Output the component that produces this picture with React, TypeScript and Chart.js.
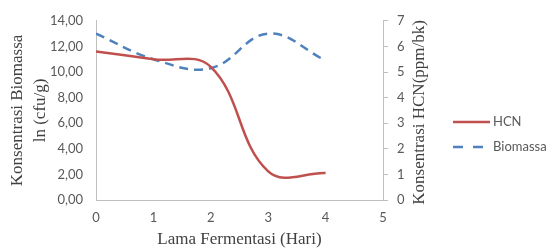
import React, { useEffect, useRef } from "react";
import { Chart, registerables } from "chart.js";

Chart.register(...registerables);

const days = [0, 1, 2, 3, 4];
const hcn = [5.8, 5.5, 5.2, 1.12, 1.05];
const biomassa = [13.0, 11.0, 10.3, 13.0, 10.9];
const seriesNames = ["HCN", "Biomassa"];
const leftTitle = ["Konsentrasi Biomassa", "ln (cfu/g)"];
const rightTitle = "Konsentrasi HCN(ppm/bk)";
const xTitle = "Lama Fermentasi (Hari)";

const RED = "#C0504D";
const BLUE = "#4F81BD";
const AXIS = "#BFBFBF";
const TICK = "#595959";
const TITLE = "#404040";
const TICK_FONT = { family: "Lato", size: 13 };
const SERIF = "17px 'Liberation Serif', 'Times New Roman', serif";

const overlay = {
  id: "overlay",
  afterDraw(chart: any) {
    const { ctx, chartArea } = chart;
    const midY = (chartArea.top + chartArea.bottom) / 2;
    ctx.save();
    ctx.fillStyle = TITLE;
    ctx.font = SERIF;
    ctx.textAlign = "center";
    ctx.textBaseline = "middle";
    // left title
    ctx.save();
    ctx.translate(18, midY);
    ctx.rotate(-Math.PI / 2);
    ctx.fillText(leftTitle[0], 0, 0);
    ctx.restore();
    ctx.save();
    ctx.translate(41, midY);
    ctx.rotate(-Math.PI / 2);
    ctx.fillText(leftTitle[1], 0, 0);
    ctx.restore();
    // right title
    ctx.save();
    ctx.translate(chartArea.right + 37, midY + 2);
    ctx.rotate(-Math.PI / 2);
    ctx.fillText(rightTitle, 0, 0);
    ctx.restore();
    // x title
    ctx.fillText(xTitle, (chartArea.left + chartArea.right) / 2, 240);

    // legend
    const lx = chartArea.right + 70;
    const items = [
      { name: seriesNames[0], color: RED, dash: [] as number[], y: 122 },
      { name: seriesNames[1], color: BLUE, dash: [10, 10], y: 147 },
    ];
    ctx.font = "13px Lato";
    ctx.textAlign = "left";
    for (const it of items) {
      ctx.beginPath();
      ctx.strokeStyle = it.color;
      ctx.lineWidth = 2.5;
      ctx.setLineDash(it.dash);
      ctx.moveTo(lx, it.y);
      ctx.lineTo(lx + 37, it.y);
      ctx.stroke();
      ctx.setLineDash([]);
      ctx.fillStyle = TICK;
      ctx.fillText(it.name, lx + 40, it.y);
    }
    ctx.restore();
  },
};

export default function App() {
  const ref = useRef<HTMLCanvasElement>(null);
  useEffect(() => {
    if (!ref.current) return;
    const chart = new Chart(ref.current, {
      type: "line",
      data: {
        datasets: [
          {
            label: seriesNames[0],
            data: days.map((d, i) => ({ x: d, y: hcn[i] })),
            yAxisID: "y2",
            borderColor: RED,
            backgroundColor: RED,
            borderWidth: 2.5,
            pointRadius: 0,
            tension: 0.4,
            fill: false,
          },
          {
            label: seriesNames[1],
            data: days.map((d, i) => ({ x: d, y: biomassa[i] })),
            yAxisID: "y",
            borderColor: BLUE,
            backgroundColor: BLUE,
            borderWidth: 2.5,
            borderDash: [9, 6],
            pointRadius: 0,
            tension: 0.4,
            fill: false,
          },
        ],
      },
      options: {
        animation: false,
        responsive: false,
        maintainAspectRatio: false,
        layout: { padding: { top: 17, left: 0, right: 0, bottom: 0 } },
        plugins: { legend: { display: false }, tooltip: { enabled: false } },
        scales: {
          x: {
            type: "linear",
            min: 0,
            max: 5,
            ticks: { stepSize: 1, color: TICK, font: TICK_FONT, padding: 10 },
            grid: { display: false, drawTicks: false },
            border: { display: true, color: AXIS, width: 1 },
            afterFit: (s: any) => {
              s.height = 50;
            },
          },
          y: {
            position: "left",
            min: 0,
            max: 14,
            ticks: {
              stepSize: 2,
              color: TICK,
              font: TICK_FONT,
              padding: 13,
              callback: (v: any) => Number(v).toFixed(2).replace(".", ","),
            },
            grid: { display: false, drawTicks: false },
            border: { display: true, color: AXIS, width: 1 },
            afterFit: (s: any) => {
              s.width = 96;
            },
          },
          y2: {
            position: "right",
            min: 0,
            max: 7,
            ticks: { stepSize: 1, color: TICK, font: TICK_FONT, padding: 9 },
            grid: {
              display: true,
              drawOnChartArea: false,
              drawTicks: true,
              tickLength: 5,
              color: AXIS,
            },
            border: { display: true, color: AXIS, width: 1 },
            afterFit: (s: any) => {
              s.width = 163;
            },
          },
        },
      },
      plugins: [overlay],
    });
    return () => chart.destroy();
  }, []);
  return (
    <div style={{ position: "fixed", left: 0, top: 0, width: 546, height: 250, background: "#fff" }}>
      <canvas ref={ref} width={546} height={250} style={{ width: 546, height: 250, display: "block" }} />
    </div>
  );
}
